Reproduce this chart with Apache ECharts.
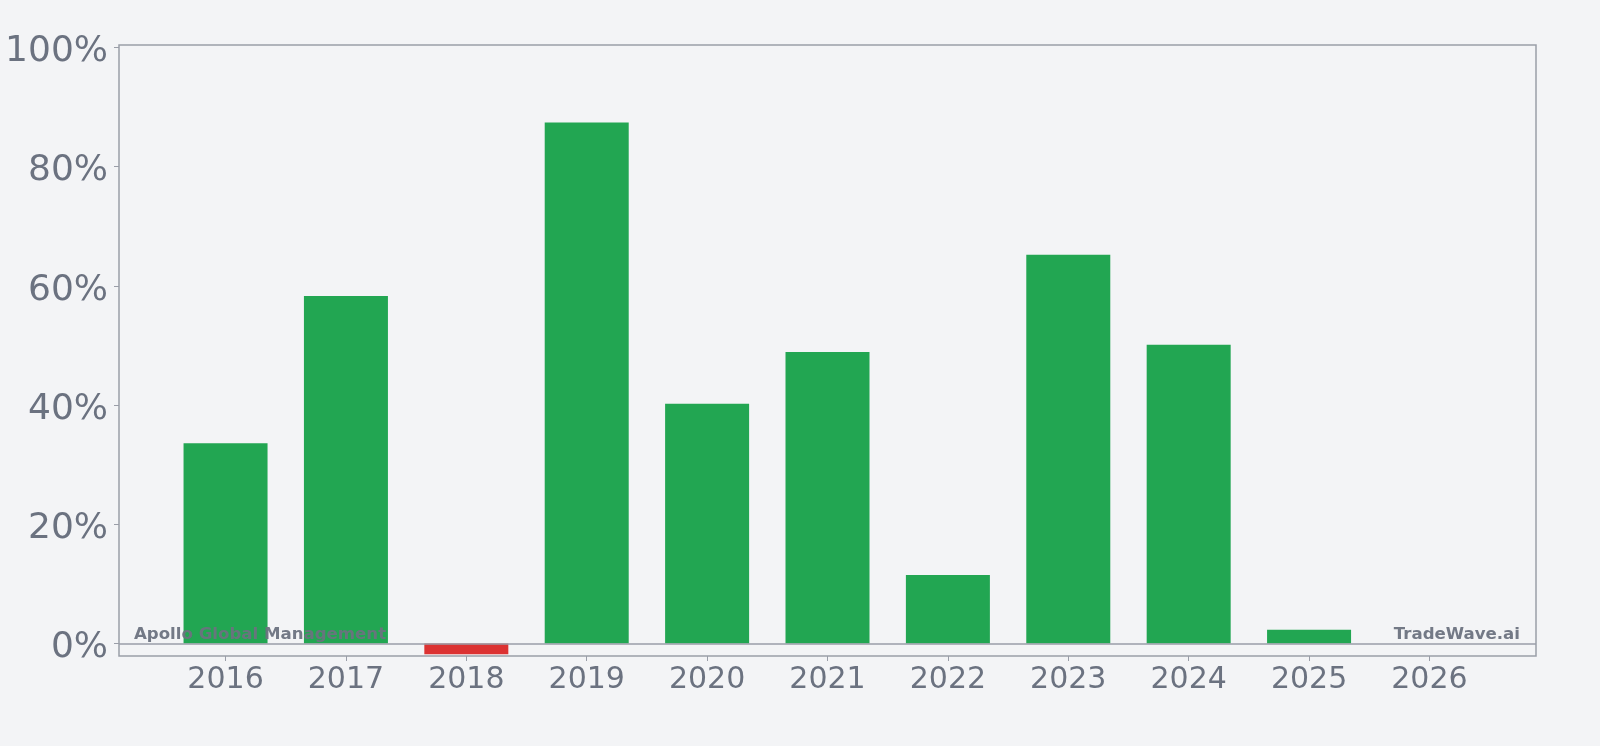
<!DOCTYPE html>
<html>
<head>
<meta charset="utf-8">
<script src="https://cdn.jsdelivr.net/npm/echarts@6/dist/echarts.min.js"></script>
<style>
html,body{margin:0;padding:0;background:#f3f4f6;}
#chart{width:1600px;height:746px;}
</style>
</head>
<body>
<div id="chart"></div>
<script>
const years = ['2016','2017','2018','2019','2020','2021','2022','2023','2024','2025','2026'];
const values = [33.6, 58.3, -1.8, 87.4, 40.2, 48.9, 11.5, 65.2, 50.1, 2.3, 0];
const yTicks = [0, 20, 40, 60, 80, 100];
const xTickIdx = years.map((_, i) => i);

const GREEN = '#22a652', RED = '#dc3232', GREY = '#6b7280', FRAME = '#9a9ea8';

const chart = echarts.init(document.getElementById('chart'), null, {renderer: 'canvas'});
chart.setOption({
  backgroundColor: '#f3f4f6',
  animation: false,
  grid: {left: 119, right: 64, top: 45, bottom: 90, show: true, borderColor: FRAME, borderWidth: 1.5, backgroundColor: 'transparent'},
  xAxis: {
    type: 'value', min: -0.885, max: 10.885,
    axisLine: {show: false, onZero: false},
    splitLine: {show: false},
    axisTick: {show: true, customValues: xTickIdx, length: 5, lineStyle: {color: FRAME, width: 1}},
    axisLabel: {customValues: xTickIdx, formatter: v => years[Math.round(v)], color: GREY, fontSize: 30, fontFamily: 'DejaVu Sans', margin: 9}
  },
  yAxis: {
    type: 'value', min: -2.1, max: 100.4,
    axisLine: {show: false, onZero: false},
    splitLine: {show: false},
    axisTick: {show: true, customValues: yTicks, length: 5, lineStyle: {color: FRAME, width: 1}},
    axisLabel: {customValues: yTicks, formatter: v => Math.round(v) + '%', color: GREY, fontSize: 36, fontFamily: 'DejaVu Sans', margin: 11, verticalAlign: 'top', lineHeight: 9}
  },
  series: [{
    type: 'bar',
    barWidth: 84,
    data: values.map((v, i) => ({value: [i, v], itemStyle: {color: v < 0 ? RED : GREEN}})),
    markLine: {
      silent: true, symbol: 'none', label: {show: false},
      lineStyle: {color: FRAME, width: 1.5, type: 'solid'},
      data: [{yAxis: 0}]
    }
  }],
  graphic: [
    {type: 'text', left: 134, top: 626, z: 100, style: {text: 'Apollo Global Management', fill: GREY, font: 'bold 16.6px "DejaVu Sans"', opacity: 0.95}},
    {type: 'text', right: 80, top: 626, z: 100, style: {text: 'TradeWave.ai', fill: GREY, font: 'bold 16.6px "DejaVu Sans"', opacity: 0.95}}
  ]
});
</script>
</body>
</html>
